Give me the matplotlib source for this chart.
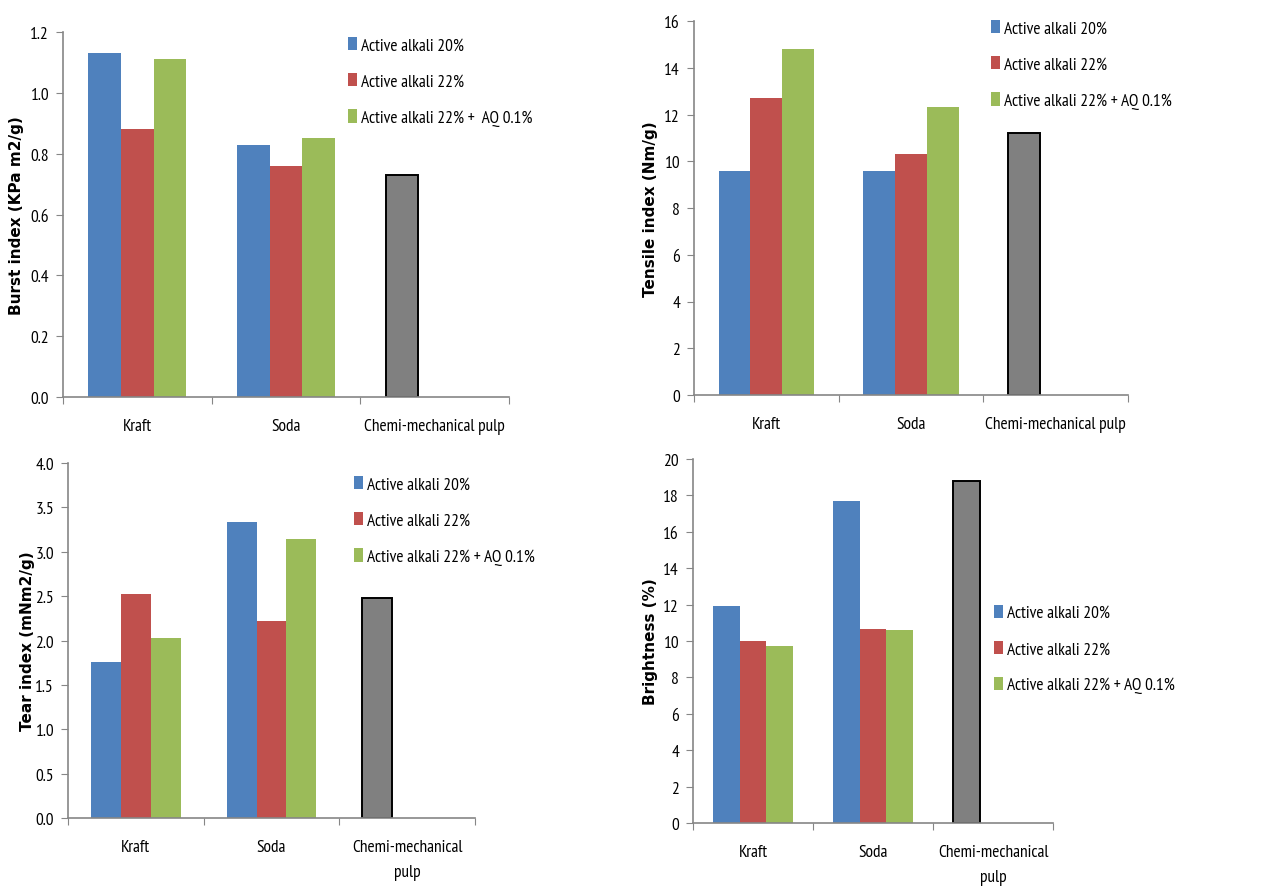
import matplotlib
matplotlib.use('Agg')
from matplotlib import pyplot as plt
from matplotlib.patches import Patch

# data
categories = ['Kraft', 'Soda', 'Chemi-mechanical pulp']
categories_wrapped = ['Kraft', 'Soda', 'Chemi-mechanical\npulp']
series_names = ['Active alkali 20%', 'Active alkali 22%', 'Active alkali 22% + AQ 0.1%']
series_names_burst = ['Active alkali 20%', 'Active alkali 22%', 'Active alkali 22% +  AQ 0.1%']

burst = [[1.13, 0.83], [0.88, 0.76], [1.11, 0.85]]
burst_chemi = 0.73
tensile = [[9.6, 9.6], [12.7, 10.3], [14.8, 12.3]]
tensile_chemi = 11.2
tear = [[1.76, 3.34], [2.52, 2.22], [2.03, 3.14]]
tear_chemi = 2.48
brightness = [[11.9, 17.7], [10.0, 10.65], [9.75, 10.6]]
brightness_chemi = 18.8

colors = ['#4F81BD', '#C0504D', '#9BBB59']
TICK_FONT = ['PT Sans Narrow', 'Roboto Condensed', 'Lato', 'DejaVu Sans']
LABEL_FONT = ['DejaVu Sans']
FS = 12.5
W, H = 1264, 895


def px_axes(fig, left, top, right, bottom):
    return fig.add_axes([left / W, (H - bottom) / H, (right - left) / W, (bottom - top) / H])


def draw_panel(ax, values, chemi, ylim, ystep, ylabel, xlabels, legend_names, leg_xy, fmt):
    w = 0.22
    for i, vals in enumerate(values):
        ax.bar([0 + (i - 1) * w, 1 + (i - 1) * w], vals, width=w, color=colors[i],
               edgecolor='none', zorder=2)
    ax.bar([2 - w], [chemi], width=w, color='#808080', edgecolor='black', linewidth=1.4, zorder=2)

    ax.set_xlim(-0.5, 2.5)
    ax.set_ylim(0, ylim)
    yt = [k * ystep for k in range(int(round(ylim / ystep)) + 1)]
    ax.set_yticks(yt)
    ax.set_yticklabels([fmt.format(v) for v in yt], fontfamily=TICK_FONT, fontsize=FS)
    ax.set_xticks([-0.5, 0.5, 1.5, 2.5])
    ax.set_xticklabels([])
    ax.set_xticks([0, 1, 2], minor=True)
    ax.set_xticklabels(xlabels, minor=True, fontfamily=TICK_FONT, fontsize=FS, linespacing=1.75)
    ax.tick_params(axis='x', which='minor', length=0, pad=15)
    ax.tick_params(axis='both', which='major', direction='out', length=5, color='#868686')
    ax.tick_params(axis='y', pad=5)
    for s in ['top', 'right']:
        ax.spines[s].set_visible(False)
    for s in ['left', 'bottom']:
        ax.spines[s].set_color('#868686')
        ax.spines[s].set_linewidth(1.2)
    ax.set_ylabel(ylabel, fontfamily=LABEL_FONT, fontweight='bold', fontsize=11)

    handles = [Patch(facecolor=c, edgecolor='none') for c in colors]
    ax.legend(handles, legend_names, loc='upper left',
              bbox_to_anchor=(leg_xy[0] / W, 1 - leg_xy[1] / H), bbox_transform=ax.figure.transFigure,
              frameon=False, handlelength=0.5, handleheight=0.8, handletextpad=0.25,
              labelspacing=1.12, borderpad=0, borderaxespad=0,
              prop={'family': TICK_FONT, 'size': FS})


fig = plt.figure(figsize=(W / 100, H / 100), dpi=100)

ax1 = px_axes(fig, 63, 33, 509, 398)
draw_panel(ax1, burst, burst_chemi, 1.2, 0.2, 'Burst index (KPa m2/g)', categories,
           series_names_burst, (348, 38), '{:.1f}')
ax1.yaxis.set_label_coords(-0.087, 0.5)

ax2 = px_axes(fig, 694, 22, 1128, 396)
draw_panel(ax2, tensile, tensile_chemi, 16, 2, 'Tensile index (Nm/g)', categories,
           series_names, (991, 21), '{:.0f}')
ax2.yaxis.set_label_coords(-0.083, 0.5)

ax3 = px_axes(fig, 68, 464, 475, 819)
draw_panel(ax3, tear, tear_chemi, 4.0, 0.5, 'Tear index (mNm2/g)', categories_wrapped,
           series_names, (354, 477), '{:.1f}')
ax3.yaxis.set_label_coords(-0.081, 0.5)

ax4 = px_axes(fig, 693, 460, 1053, 824)
draw_panel(ax4, brightness, brightness_chemi, 20, 2, 'Brightness (%)', categories_wrapped,
           series_names, (994, 605.5), '{:.0f}')
ax4.yaxis.set_label_coords(-0.097, 0.5)

plt.savefig('out.png', dpi=100)
